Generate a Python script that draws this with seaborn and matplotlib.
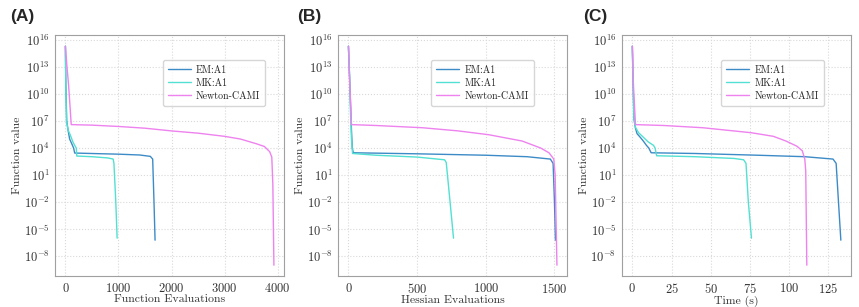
import matplotlib
matplotlib.use("Agg")
import matplotlib.pyplot as plt
import seaborn as sns

# ---- data ----
series_names = ["EM:A1", "MK:A1", "Newton-CAMI"]
series_colors = ["#3d8bc6", "#52e0d2", "#ee82ee"]

# (A) function evaluations
em_a_x = [0, 8, 25, 50, 80, 120, 155, 175, 600, 1000, 1400, 1600, 1645, 1670, 1690]
em_a_y = [2e15, 1e11, 1e7, 1e6, 1e5, 3e4, 1e4, 2.8e3, 2.4e3, 2.1e3, 1.7e3, 1.2e3, 6e2, 1e-2, 6e-7]
mk_a_x = [0, 8, 20, 50, 90, 140, 175, 205, 215, 500, 800, 900, 915, 950, 975]
mk_a_y = [2e15, 1e11, 1e7, 1e6, 3e5, 5e4, 2e4, 1e4, 1.3e3, 1.1e3, 8e2, 6e2, 2e2, 1e-2, 1e-6]
nw_a_x = [0, 30, 60, 110, 500, 1000, 1500, 2000, 2500, 3000, 3300, 3600, 3750, 3850, 3890, 3910, 3930]
nw_a_y = [2e15, 1e13, 1e11, 4e6, 3.5e6, 2.5e6, 1.6e6, 8e5, 4.5e5, 2e5, 1e5, 3e4, 1.5e4, 4e3, 1e3, 1e0, 1e-9]

# (B) Hessian evaluations
em_b_x = [0, 8, 15, 22, 28, 35, 500, 1000, 1300, 1470, 1490, 1500, 1507]
em_b_y = [2e15, 1e12, 1e9, 1e6, 1e4, 3e3, 2.3e3, 1.6e3, 1.1e3, 6e2, 2e2, 1e-2, 6e-7]
mk_b_x = [0, 8, 15, 22, 30, 200, 500, 700, 712, 740, 765]
mk_b_y = [2e15, 1e12, 1e8, 1e5, 2.5e3, 1.6e3, 1e3, 5e2, 2.5e2, 1e-2, 1e-6]
nw_b_x = [0, 10, 22, 200, 540, 800, 1023, 1265, 1400, 1460, 1495, 1505, 1518]
nw_b_y = [2e15, 1e11, 4e6, 3.2e6, 1.8e6, 8e5, 3e5, 6e4, 1e4, 3e3, 6e2, 1e1, 1e-9]

# (C) wall-clock time
em_c_x = [0, 0.5, 1, 2, 3, 5, 7, 9, 10.5, 12, 40, 80, 110, 128, 130, 131.5, 133]
em_c_y = [2e15, 1e11, 2e7, 1.6e6, 4e5, 1.6e5, 6e4, 2e4, 1e4, 3e3, 2.5e3, 1.6e3, 1.1e3, 6e2, 2e2, 1e-2, 6e-7]
mk_c_x = [0, 0.5, 1, 2, 4, 7, 10, 13.5, 14.5, 15.5, 40, 65, 71, 72.5, 74, 76]
mk_c_y = [2e15, 1e11, 2e7, 2e6, 5e5, 1.6e5, 5e4, 2e4, 1e4, 1.4e3, 1.1e3, 7e2, 5e2, 2e2, 1e-2, 1e-6]
nw_c_x = [0, 0.7, 2, 20, 45, 76, 90, 98, 105, 108.4, 110, 110.6, 111.3]
nw_c_y = [2e15, 1e11, 4e6, 3.2e6, 1.8e6, 5e5, 2e5, 6e4, 1.6e4, 5e3, 6e2, 3e1, 1e-9]

panel_labels = ["(A)", "(B)", "(C)"]
x_labels = ["Function Evaluations", "Hessian Evaluations", "Time (s)"]
x_ticks = [[0, 1000, 2000, 3000, 4000], [0, 500, 1000, 1500], [0, 25, 50, 75, 100, 125]]
y_ticks = [1e-8, 1e-5, 1e-2, 1e1, 1e4, 1e7, 1e10, 1e13, 1e16]

panels = [
    [(em_a_x, em_a_y), (mk_a_x, mk_a_y), (nw_a_x, nw_a_y)],
    [(em_b_x, em_b_y), (mk_b_x, mk_b_y), (nw_b_x, nw_b_y)],
    [(em_c_x, em_c_y), (mk_c_x, mk_c_y), (nw_c_x, nw_c_y)],
]

# ---- style ----
sns.set_style("whitegrid", {"grid.linestyle": ":", "grid.color": "#d9d9d9",
                            "axes.edgecolor": "#a0a0a0"})
plt.rcParams["font.family"] = "serif"
plt.rcParams["font.serif"] = ["cmr10"]
plt.rcParams["mathtext.fontset"] = "cm"
plt.rcParams["axes.formatter.use_mathtext"] = True

fig = plt.figure(figsize=(8.59, 3.07), dpi=100)
lefts = [0.064, 0.3935, 0.724]
legend_right = [0.917, 0.853, 0.88]
label_x = [0.0116, 0.3457, 0.6787]

for i, data in enumerate(panels):
    ax = fig.add_axes([lefts[i], 0.101, 0.267, 0.785])
    for (xs, ys), name, col in zip(data, series_names, series_colors):
        sns.lineplot(x=xs, y=ys, ax=ax, color=col, label=name, linewidth=1.0,
                     sort=False, estimator=None)
    ax.set_yscale("log")
    ax.set_ylim(10 ** -10.2, 10 ** 16.55)
    ax.set_yticks(y_ticks)
    ax.minorticks_off()
    ax.set_xticks(x_ticks[i])
    ax.set_xlabel(x_labels[i], fontsize=8.5, labelpad=0)
    ax.set_ylabel("Function value", fontsize=8.5, labelpad=1)
    ax.tick_params(labelsize=9, length=2.5, color="#a0a0a0", pad=1.5,
                   labelcolor="#333333")
    ax.xaxis.label.set_color("#333333")
    ax.yaxis.label.set_color("#333333")
    ax.legend(loc="upper right", bbox_to_anchor=(legend_right[i], 0.895),
              fontsize=7.2, frameon=True, handlelength=2.3, borderpad=0.5,
              labelspacing=0.35, handletextpad=0.5, borderaxespad=0)
    fig.text(label_x[i], 0.946, panel_labels[i], fontsize=12.5, fontweight="bold",
             family="Liberation Sans", va="center", ha="left")

plt.savefig("out.png", dpi=100)
